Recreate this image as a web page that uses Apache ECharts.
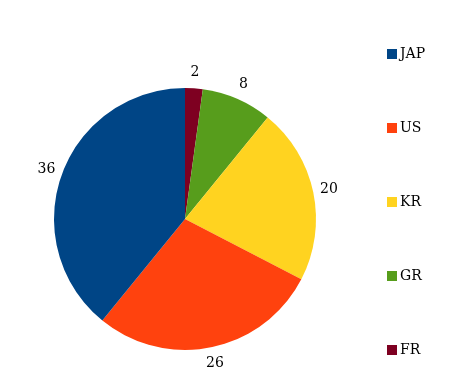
<!DOCTYPE html>
<html lang="en">
<head>
    <meta charset="UTF-8">
    <title>Pie</title>
    <script type="text/javascript" src="https://cdn.jsdelivr.net/npm/echarts@6/dist/echarts.min.js"></script>
    <style>
        html, body { margin: 0; padding: 0; background: #fff; }
        #main { width: 468px; height: 378px; }
    </style>
</head>
<body>
<div id="main"></div>
<script type="text/javascript">
    // slices go clockwise from 12 o'clock
    var names = ['FR', 'GR', 'KR', 'US', 'JAP'];
    var values = [2, 8, 20, 26, 36];
    var colors = ['#7e0021', '#579d1c', '#ffd320', '#ff420e', '#004586'];
    var legendOrder = ['JAP', 'US', 'KR', 'GR', 'FR'];

    var font = 'DejaVu Serif';

    var pieData = names.map(function (n, i) {
        return { name: n, value: values[i] };
    });

    var option = {
        animation: false,
        color: colors,
        legend: {
            orient: 'vertical',
            left: 382,
            top: 42,
            data: legendOrder,
            icon: 'rect',
            itemWidth: 10,
            itemHeight: 10,
            itemGap: 60,
            textStyle: {
                fontFamily: font,
                fontSize: 14,
                color: '#000',
                padding: [0, 0, 0, -2]
            }
        },
        series: [
            {
                type: 'pie',
                center: [185, 219],
                radius: 131,
                startAngle: 90,
                data: pieData,
                label: { show: false },
                labelLine: { show: false },
                itemStyle: { borderWidth: 0 },
                emphasis: { disabled: true }
            },
            {
                // invisible ring, only carries the value labels around the pie
                type: 'pie',
                center: [185, 219],
                radius: [124, 164],
                startAngle: 90,
                silent: true,
                data: pieData,
                itemStyle: { color: 'rgba(0,0,0,0)', borderWidth: 0 },
                label: {
                    show: true,
                    position: 'inside',
                    formatter: '{c}',
                    fontFamily: font,
                    fontSize: 14,
                    color: '#000'
                },
                labelLine: { show: false },
                emphasis: { disabled: true }
            }
        ]
    };

    var myChart = echarts.init(document.getElementById('main'));
    myChart.setOption(option);
</script>
</body>
</html>
